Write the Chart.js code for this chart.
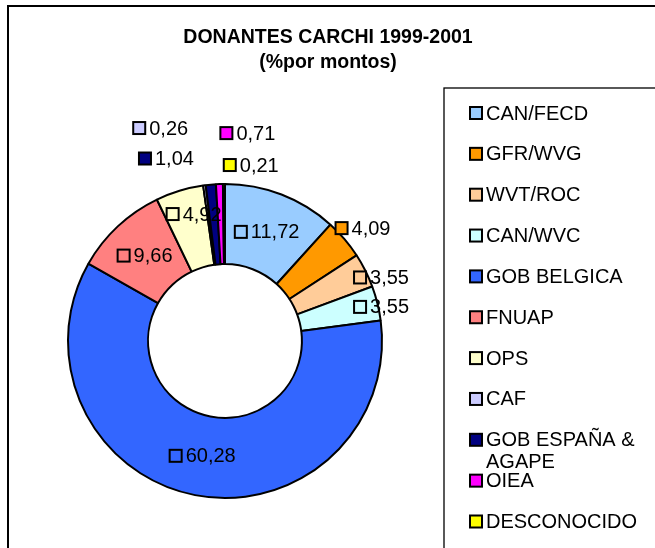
<!DOCTYPE html>
<html>
<head>
<meta charset="utf-8">
<script src="https://cdn.jsdelivr.net/npm/chart.js@4"></script>
<style>
  html, body { margin: 0; padding: 0; background: #fff; }
  #wrap { width: 655px; height: 548px; }
</style>
</head>
<body>
<div id="wrap"><canvas id="myChart" width="655" height="548"></canvas></div>
<script>
const donantes = ['CAN/FECD', 'GFR/WVG', 'WVT/ROC', 'CAN/WVC', 'GOB BELGICA', 'FNUAP',
                  'OPS', 'CAF', 'GOB ESPAÑA & AGAPE', 'OIEA', 'DESCONOCIDO']
const montos = [11.72, 4.09, 3.55, 3.55, 60.28, 9.66, 4.92, 0.26, 1.04, 0.71, 0.21]
const colores = ['#99CCFF', '#FF9900', '#FFCC99', '#CCFFFF', '#3366FF', '#FF8080',
                 '#FFFFCC', '#CCCCFF', '#000080', '#FF00FF', '#FFFF00']
const titulo = ['DONANTES CARCHI 1999-2001', '(%por montos)']

// label offsets from the middle of each ring segment (px)
const ajustes = [[0, 0], [49, -37], [52, -11], [43, -6], [0, 0], [0, 0],
                 [3, -15], [-49, -97], [-48, -66], [27, -91], [27, -59]]

const FONT = '"Liberation Sans", Arial, sans-serif'

function wrapText(ctx, text, maxW) {
  const words = text.split(' ')
  const lines = []
  let line = ''
  words.forEach(w => {
    const test = line ? line + ' ' + w : w
    if (ctx.measureText(test).width > maxW && line) {
      lines.push(line)
      line = w
    } else {
      line = test
    }
  })
  lines.push(line)
  return lines
}

function marcador(ctx, x, y, color) {
  ctx.fillStyle = color
  ctx.fillRect(x, y - 6, 12, 12)
  ctx.strokeStyle = '#000'
  ctx.lineWidth = 2
  ctx.strokeRect(x, y - 6, 12, 12)
}

// frame, title and legend box
const decoracion = {
  id: 'decoracion',
  beforeDraw(chart) {
    const ctx = chart.ctx
    ctx.save()
    ctx.fillStyle = '#fff'
    ctx.fillRect(0, 0, chart.width, chart.height)
    ctx.strokeStyle = '#000'
    ctx.lineWidth = 2
    ctx.strokeRect(8, 6, chart.width + 20, chart.height + 20)

    ctx.fillStyle = '#000'
    ctx.font = 'bold 19.5px ' + FONT
    ctx.textAlign = 'center'
    ctx.textBaseline = 'middle'
    ctx.fillText(titulo[0], 328, 38)
    ctx.fillText(titulo[1], 328, 63)

    // legend
    ctx.lineWidth = 1.3
    ctx.strokeRect(444, 88, chart.width, chart.height)
    ctx.font = '20px ' + FONT
    ctx.textAlign = 'left'
    donantes.forEach((d, i) => {
      const y = 113 + i * 40.85
      marcador(ctx, 470, y, colores[i])
      ctx.fillStyle = '#000'
      const lines = wrapText(ctx, d, 165)
      lines.forEach((l, k) => ctx.fillText(l, 486, y + 1 + k * 22))
    })
    ctx.restore()
  }
}

// value labels
const etiquetas = {
  id: 'etiquetas',
  afterDatasetsDraw(chart) {
    const ctx = chart.ctx
    const meta = chart.getDatasetMeta(0)
    ctx.save()
    ctx.font = '20px ' + FONT
    ctx.textBaseline = 'middle'
    ctx.textAlign = 'left'
    meta.data.forEach((arc, i) => {
      const p = arc.getProps(['x', 'y', 'startAngle', 'endAngle', 'innerRadius', 'outerRadius'], true)
      const mid = (p.startAngle + p.endAngle) / 2
      const r = (p.innerRadius + p.outerRadius) / 2
      const cx = p.x + Math.cos(mid) * r + ajustes[i][0]
      const cy = p.y + Math.sin(mid) * r + ajustes[i][1]
      const txt = montos[i].toFixed(2).replace('.', ',')
      const tw = ctx.measureText(txt).width
      const left = cx - (16 + tw) / 2
      marcador(ctx, left, cy, colores[i])
      ctx.fillStyle = '#000'
      ctx.fillText(txt, left + 16, cy + 1)
    })
    ctx.restore()
  }
}

const data = {
  labels: donantes,
  datasets: [{
    data: montos,
    backgroundColor: colores,
    borderColor: '#000',
    borderWidth: 2
  }]
}

const config = {
  type: 'doughnut',
  data,
  options: {
    responsive: false,
    animation: false,
    devicePixelRatio: 1,
    cutout: '49%',
    layout: {
      padding: { left: 67, right: 272, top: 183, bottom: 49 }
    },
    plugins: {
      legend: { display: false },
      tooltip: { enabled: false }
    }
  },
  plugins: [decoracion, etiquetas]
}

const myChart = new Chart(document.getElementById('myChart'), config)
</script>
</body>
</html>
